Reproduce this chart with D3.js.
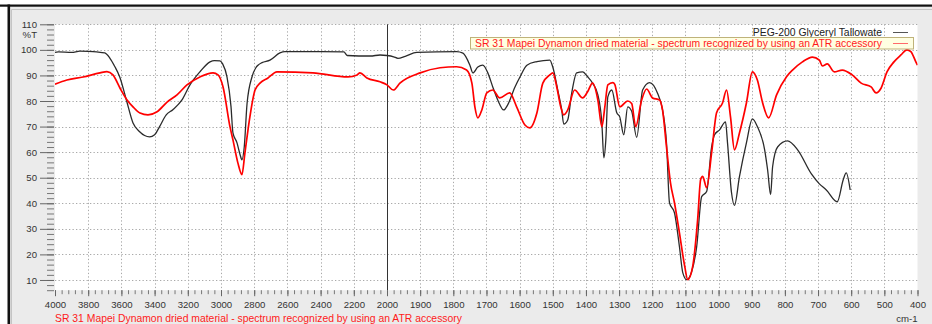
<!DOCTYPE html>
<html>
<head>
<meta charset="utf-8">
<script src="https://cdn.jsdelivr.net/npm/d3@7"></script>
<style>
  html, body { margin: 0; padding: 0; background: #ffffff; }
  svg { display: block; font-family: "Liberation Sans", Arial, sans-serif; }
</style>
</head>
<body>
<svg id="chart" width="932" height="324"></svg>
<script>
// PEG-200 Glyceryl Tallowate reference spectrum (wavenumber cm-1, %T)
const pegWavenumber = [4000,3980,3900,3850,3800,3750,3700,3670,3640,3610,3570,3530,3490,3460,3430,3400,3370,3330,3290,3235,3187,3127,3066,3040,3006,2990,2964,2940,2928,2904,2885,2874,2860,2843,2813,2790,2777,2753,2705,2645,2615,2400,2260,2240,2100,2042,2000,1980,1967,1945,1910,1790,1771,1750,1741,1726,1711,1696,1681,1666,1648,1636,1614,1599,1578,1548,1509,1500,1485,1473,1467,1455,1443,1428,1410,1395,1380,1364,1352,1346,1340,1334,1322,1307,1298,1286,1274,1262,1247,1229,1208,1184,1169,1157,1148,1133,1118,1108,1096,1081,1066,1051,1036,1021,1012,997,979,973,961,952,937,916,898,883,861,852,843,837,822,792,762,720,696,675,642,624,615,603];
const pegTransmittance = [99.0,99.2,99.0,99.5,99.4,99.2,98.8,96.8,93.5,89.4,80.4,71.4,68.0,66.5,66.0,66.8,70.0,74.6,76.6,80.4,86.3,91.4,95.3,95.8,95.7,94.5,89.4,78.0,67.5,63.7,59.0,57.0,62.0,79.0,89.5,93.0,94.0,95.0,96.0,98.8,99.3,99.3,99.2,97.8,97.6,98.0,97.8,97.3,96.7,97.5,99.0,99.3,98.7,94.0,91.0,93.3,94.0,91.0,85.5,80.4,76.5,78.5,85.5,89.4,94.0,95.4,96.0,93.3,84.3,76.5,71.0,72.6,83.0,91.0,91.4,89.5,87.0,82.4,71.4,57.8,64.8,81.6,84.3,75.4,73.8,66.8,77.7,76.0,65.8,84.3,87.2,83.0,76.5,63.6,40.2,36.3,23.0,12.9,10.1,13.3,23.0,42.6,44.6,62.0,66.8,68.7,71.8,63.6,44.2,39.2,50.4,63.6,73.0,70.0,60.9,53.0,43.4,54.3,62.0,64.4,61.0,51.5,47.6,45.2,40.6,49.2,51.9,45.2];

// SR 31 Mapei Dynamon dried material, ATR spectrum (wavenumber cm-1, %T)
const mapeiWavenumber = [4000,3928,3831,3729,3687,3651,3608,3566,3530,3488,3440,3385,3325,3265,3205,3127,3048,3018,2988,2946,2928,2898,2874,2856,2826,2795,2765,2717,2663,2446,2235,2180,2163,2121,2042,2000,1981,1961,1900,1840,1790,1760,1744,1735,1726,1714,1699,1681,1660,1630,1609,1584,1569,1548,1530,1509,1500,1488,1476,1467,1455,1434,1410,1395,1380,1364,1352,1343,1334,1319,1313,1298,1274,1262,1250,1232,1217,1199,1178,1169,1157,1145,1133,1118,1102,1093,1078,1063,1054,1048,1036,1021,1006,988,976,964,952,937,916,898,883,867,849,825,795,777,747,717,696,687,672,651,627,597,570,540,525,510,492,471,450,432,420,405,400];
const mapeiTransmittance = [86.6,88.2,89.4,91.0,91.5,90.2,85.0,80.4,77.7,75.3,74.6,75.8,79.6,82.4,86.3,89.4,91.0,90.2,85.6,70.0,64.8,55.7,51.2,59.6,73.8,84.3,87.0,89.0,91.4,91.0,89.4,90.2,91.0,89.0,87.5,86.3,84.3,87.0,91.0,93.0,93.4,92.1,87.0,77.7,73.4,76.5,83.2,84.3,81.2,83.2,77.7,70.6,69.5,75.3,87.0,90.2,91.0,85.5,77.7,74.6,76.5,84.3,81.2,83.6,87.0,80.4,70.0,77.7,86.3,87.2,86.5,77.7,80.0,79.0,70.0,80.4,84.7,81.2,80.4,76.5,62.0,48.0,40.2,28.4,15.3,10.1,15.3,33.7,49.3,50.5,46.1,59.7,75.4,79.2,84.3,73.8,60.9,67.5,79.2,91.4,88.2,79.2,73.4,82.4,89.5,92.1,95.3,97.2,96.0,93.7,94.5,91.4,92.1,90.2,87.0,85.5,83.2,85.0,91.4,95.3,98.0,100.0,99.3,95.3,94.0];

// Axis tick labels: 200 cm-1 steps above 2000, 100 cm-1 steps below
const xTickLabels = [4000,3800,3600,3400,3200,3000,2800,2600,2400,2200,2000,1900,1800,1700,1600,1500,1400,1300,1200,1100,1000,900,800,700,600,500,400];
const yTickLabels = [10,20,30,40,50,60,70,80,90,100,110];

const seriesNames = ["PEG-200 Glyceryl Tallowate", "SR 31 Mapei Dynamon dried material - spectrum recognized by using an ATR accessory"];
const xUnit = "cm-1";
const yUnit = "%T";

const svg = d3.select("#chart");
const W = 932, H = 324;
const plot = { left: 55, right: 917.5, top: 24.3, bottom: 290.2 };

// window frame
svg.append("rect").attr("x", 0).attr("y", 0).attr("width", W).attr("height", H).attr("fill", "#ffffff");
svg.append("rect").attr("x", 9).attr("y", 6).attr("width", W - 9).attr("height", H - 6).attr("fill", "#ebebeb");
svg.append("rect").attr("x", 0).attr("y", 4.5).attr("width", W).attr("height", 2.2).attr("fill", "#111");
svg.append("rect").attr("x", 7.5).attr("y", 4.5).attr("width", 2.6).attr("height", H).attr("fill", "#111");
svg.append("path").attr("d", `M11.5,${H} V9.5 H${W}`).attr("fill", "none").attr("stroke", "#c4c4c4").attr("stroke-width", 1);

// scales: split wavenumber axis (two linear segments meeting at 2000)
const x = d3.scaleLinear().domain([4000, 2000, 400]).range([plot.left, 387, plot.right]);
const y = d3.scaleLinear().domain([6, 110]).range([plot.bottom, plot.top]);

svg.append("rect")
  .attr("x", plot.left).attr("y", plot.top)
  .attr("width", plot.right - plot.left).attr("height", plot.bottom - plot.top)
  .attr("fill", "#ffffff");

// dotted grid
const grid = svg.append("g").attr("stroke", "#a9a9a9").attr("stroke-width", 1).attr("stroke-dasharray", "1.3,2.2");
grid.selectAll("line.gx").data(xTickLabels.filter(v => v !== 2000 && v !== 4000 && v !== 400)).join("line")
  .attr("x1", d => Math.round(x(d)) + 0.5).attr("x2", d => Math.round(x(d)) + 0.5)
  .attr("y1", plot.top).attr("y2", plot.bottom);
grid.selectAll("line.gy").data(yTickLabels).join("line")
  .attr("x1", plot.left).attr("x2", plot.right)
  .attr("y1", d => Math.round(y(d)) + 0.5).attr("y2", d => Math.round(y(d)) + 0.5);

// solid divider at the scale break
svg.append("line")
  .attr("x1", Math.round(x(2000)) + 0.5).attr("x2", Math.round(x(2000)) + 0.5)
  .attr("y1", plot.top).attr("y2", plot.bottom)
  .attr("stroke", "#333").attr("stroke-width", 1);

// bottom axis
const xMinor = d3.range(4000, 2000, -40).concat(d3.range(2000, 399, -20));
const xAxisG = svg.append("g").attr("transform", `translate(0,${plot.bottom})`);
xAxisG.call(d3.axisBottom(x).tickValues(xMinor).tickSize(4).tickFormat(""));
xAxisG.call(g => g.select(".domain").remove());
xAxisG.selectAll(".tick line").attr("stroke", "#777");
const xAxisMajor = svg.append("g").attr("transform", `translate(0,${plot.bottom})`);
xAxisMajor.call(d3.axisBottom(x).tickValues(xTickLabels).tickSize(6).tickPadding(5).tickFormat(d3.format("d")));
xAxisMajor.call(g => g.select(".domain").remove());
xAxisMajor.selectAll(".tick line").attr("stroke", "#666");
xAxisMajor.selectAll(".tick text").attr("font-size", "9.6px").attr("fill", "#333").attr("font-family", "Liberation Sans, Arial, sans-serif");

// left axis
const yMinor = d3.range(6, 111, 2);
const yAxisG = svg.append("g").attr("transform", `translate(${plot.left - 1},0)`);
yAxisG.call(d3.axisLeft(y).tickValues(yMinor).tickSize(7).tickFormat(""));
yAxisG.call(g => g.select(".domain").remove());
yAxisG.selectAll(".tick line").attr("stroke", "#777");
const yAxisMajor = svg.append("g").attr("transform", `translate(${plot.left - 1},0)`);
yAxisMajor.call(d3.axisLeft(y).tickValues(yTickLabels).tickSize(14).tickPadding(3).tickFormat(d3.format("d")));
yAxisMajor.call(g => g.select(".domain").remove());
yAxisMajor.selectAll(".tick line").attr("stroke", "#666");
yAxisMajor.selectAll(".tick text").attr("font-size", "9.6px").attr("fill", "#333").attr("font-family", "Liberation Sans, Arial, sans-serif");

svg.append("text").attr("x", 37).attr("y", y(106) + 3.5).attr("text-anchor", "end")
  .attr("font-size", "9.6px").attr("fill", "#333").text(yUnit);
svg.append("text").attr("x", plot.right).attr("y", 322).attr("text-anchor", "end")
  .attr("font-size", "9.6px").attr("fill", "#333").text(xUnit);

// spectra
const clip = svg.append("clipPath").attr("id", "plotClip").append("rect")
  .attr("x", plot.left).attr("y", plot.top).attr("width", plot.right - plot.left).attr("height", plot.bottom - plot.top);

const line = d3.line().x(d => x(d[0])).y(d => y(d[1])).curve(d3.curveMonotoneX);
const pegData = pegWavenumber.map((w, i) => [w, pegTransmittance[i]]);
const mapeiData = mapeiWavenumber.map((w, i) => [w, mapeiTransmittance[i]]);

const lines = svg.append("g").attr("clip-path", "url(#plotClip)");
lines.append("path").datum(pegData).attr("d", line)
  .attr("fill", "none").attr("stroke", "#2b2b2b").attr("stroke-width", 1.3).attr("stroke-linejoin", "round");
lines.append("path").datum(mapeiData).attr("d", line)
  .attr("fill", "none").attr("stroke", "#ff0000").attr("stroke-width", 1.7).attr("stroke-linejoin", "round");

// legend
const legend = svg.append("g");
legend.append("text").attr("x", 882).attr("y", 35.8).attr("text-anchor", "end")
  .attr("font-size", "10.4px").attr("fill", "#222").text(seriesNames[0]);
legend.append("line").attr("x1", 893).attr("x2", 908).attr("y1", 32.5).attr("y2", 32.5)
  .attr("stroke", "#555").attr("stroke-width", 1);
legend.append("rect").attr("x", 470.5).attr("y", 37.5).attr("width", 443).attr("height", 11.5)
  .attr("fill", "#ffffe2").attr("stroke", "#bfb37a").attr("stroke-width", 1);
legend.append("text").attr("x", 882).attr("y", 47).attr("text-anchor", "end")
  .attr("font-size", "10.4px").attr("fill", "#ff1a1a").text(seriesNames[1]);
legend.append("line").attr("x1", 893).attr("x2", 908).attr("y1", 43.5).attr("y2", 43.5)
  .attr("stroke", "#ff6a6a").attr("stroke-width", 1);

// series name under the axis
svg.append("text").attr("x", plot.left).attr("y", 321.5)
  .attr("font-size", "10.4px").attr("fill", "#ff1a1a").text(seriesNames[1]);
</script>
</body>
</html>
